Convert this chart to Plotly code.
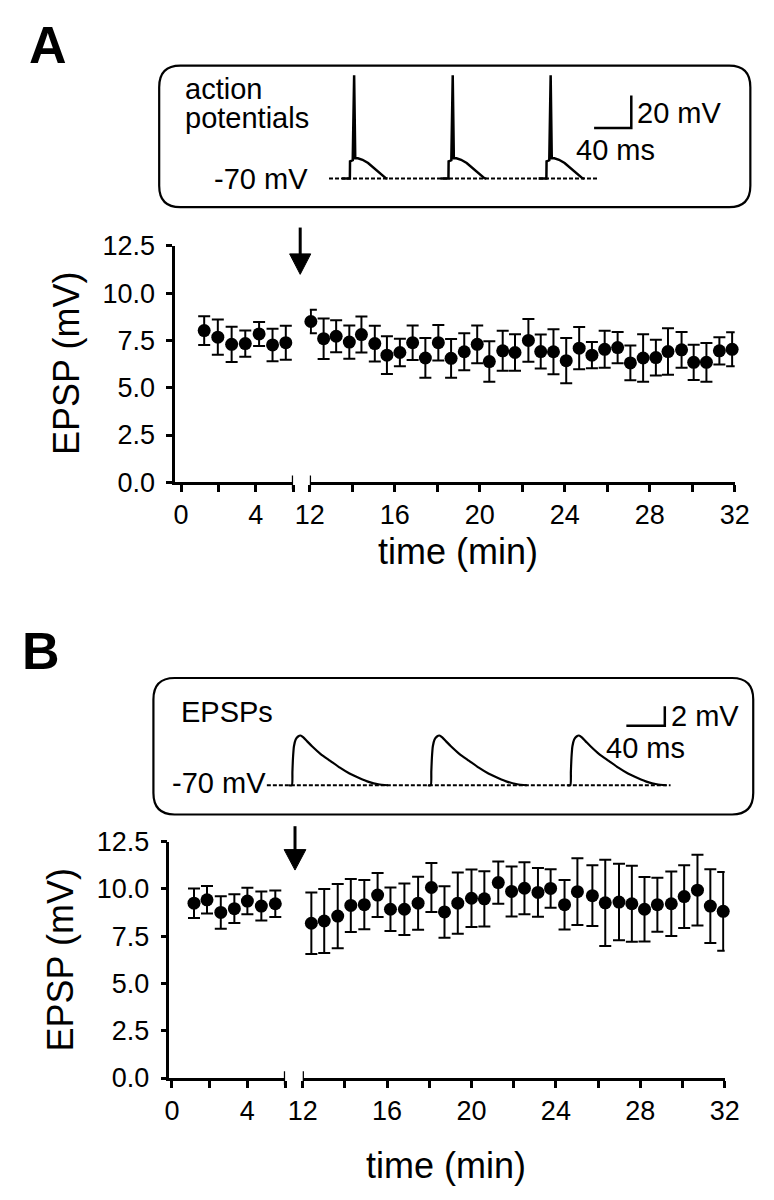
import plotly.graph_objects as go

W, H = 774, 1200
FONT = "Liberation Sans, Arial, Helvetica, sans-serif"

# ---------------- data: panel A (action potentials) ----------------
A_pre_t = [1.24, 1.97, 2.71, 3.44, 4.18, 4.90, 5.61]
A_pre_v = [8.02, 7.67, 7.29, 7.33, 7.84, 7.26, 7.38]
A_pre_e = [0.76, 0.93, 0.93, 0.69, 0.63, 0.86, 0.90]

A_post_t = [12.05, 12.65, 13.24, 13.86, 14.43, 15.06, 15.63, 16.24, 16.84, 17.44,
            18.05, 18.65, 19.27, 19.88, 20.45, 21.08, 21.66, 22.29, 22.87, 23.47,
            24.07, 24.68, 25.28, 25.88, 26.49, 27.09, 27.69, 28.29, 28.86, 29.50,
            30.07, 30.67, 31.28, 31.88]
A_post_v = [8.50, 7.59, 7.72, 7.41, 7.81, 7.33, 6.72, 6.86, 7.38, 6.57,
            7.38, 6.55, 6.90, 7.29, 6.38, 6.95, 6.86, 7.50, 6.91, 6.90,
            6.43, 7.09, 6.72, 7.03, 7.12, 6.31, 6.57, 6.59, 6.91, 7.00,
            6.34, 6.34, 6.95, 7.03]
A_post_e = [0.62, 1.07, 0.85, 0.88, 0.95, 0.95, 1.00, 0.73, 0.91, 1.05,
            0.94, 1.03, 0.98, 1.00, 1.07, 1.06, 0.97, 1.13, 0.90, 1.19,
            1.20, 1.12, 0.69, 0.98, 0.83, 0.92, 1.25, 0.95, 1.23, 0.95,
            0.93, 1.02, 0.72, 0.90]

# ---------------- data: panel B (EPSPs) ----------------
B_pre_t = [1.17, 1.86, 2.59, 3.31, 4.00, 4.74, 5.48]
B_pre_v = [9.24, 9.42, 8.75, 8.95, 9.35, 9.09, 9.21]
B_pre_e = [0.78, 0.73, 0.86, 0.76, 0.70, 0.77, 0.70]

B_post_t = [12.41, 13.02, 13.66, 14.28, 14.92, 15.55, 16.16, 16.82, 17.47, 18.10,
            18.72, 19.35, 20.00, 20.61, 21.27, 21.90, 22.51, 23.15, 23.75, 24.41,
            25.02, 25.73, 26.34, 26.99, 27.60, 28.20, 28.81, 29.47, 30.08, 30.71,
            31.32, 31.93]
B_post_v = [8.18, 8.30, 8.56, 9.12, 9.16, 9.67, 8.92, 8.92, 9.24, 10.07,
            8.78, 9.24, 9.50, 9.47, 10.33, 9.86, 10.03, 9.81, 10.02, 9.16,
            9.85, 9.64, 9.26, 9.30, 9.21, 8.92, 9.16, 9.21, 9.59, 9.93,
            9.09, 8.81]
B_post_e = [1.63, 1.69, 1.70, 1.40, 1.30, 1.16, 1.15, 1.36, 1.40, 1.30,
            1.36, 1.62, 1.52, 1.46, 1.12, 1.32, 1.37, 1.29, 1.02, 1.31,
            1.76, 1.60, 2.28, 2.02, 2.01, 1.70, 1.43, 1.70, 1.66, 1.87,
            1.95, 2.08]

# axis ticks
Y_TICKS = [0, 2.5, 5.0, 7.5, 10.0, 12.5]
X_PRE_TICKS = [0, 2, 4, 6]
X_PRE_LABELS = ["0", "", "4", ""]
X_POST_TICKS = [12, 14, 16, 18, 20, 22, 24, 26, 28, 30, 32]
X_POST_LABELS = ["12", "", "16", "", "20", "", "24", "", "28", "", "32"]

# ---------------- inset traces (ms, mV) ----------------
AP_SPIKE_MS = [27.0, 133.0, 238.3]
AP_DT = [-13, -4.6, -4.4, -1.5, 0, 1.2, 4, 9, 15, 21, 27, 31, 34, 36]
AP_MV = [-70, -70, -59.5, -58.8, -6.5, -57.6, -57.6, -58.5, -60.5, -63.5, -66.8, -68.8, -69.8, -70]
AP_BASE_MS = [0, 289.4]
AP_SCALE_MS = [285.0, 325.0, 325.0]
AP_SCALE_MV = [-39.0, -39.0, -19.0]

EPSP_ONSET_MS = [26.0, 170.5, 315.7]
EPSP_DT = [-3, 0, 0.6, 1.2, 2.2, 4, 6.5, 9, 12, 16, 21, 30, 40, 50, 60, 70, 80, 90, 100]
EPSP_MV = [-70, -70, -68.6, -67.2, -66.0, -65.3, -65.0, -64.9, -65.1, -65.5, -66.0,
           -66.8, -67.5, -68.2, -68.8, -69.25, -69.65, -69.9, -70.0]
EPSP_BASE_MS = [0, 420]
EPSP_SCALE_MS = [374.0, 414.0, 414.0]
EPSP_SCALE_MV = [-63.9, -63.9, -61.9]


def fx(p):
    return p / W


def fy(p):
    return 1 - p / H


fig = go.Figure()


def add_series(t, v, e, xa, ya):
    fig.add_trace(go.Scatter(
        x=t, y=v, mode="markers", xaxis=xa, yaxis=ya, cliponaxis=False,
        marker=dict(color="black", size=13, line=dict(width=0)),
        error_y=dict(type="data", array=e, visible=True, color="black",
                     thickness=2, width=6),
        showlegend=False, hoverinfo="skip"))


add_series(A_pre_t, A_pre_v, A_pre_e, "x", "y")
add_series(A_post_t, A_post_v, A_post_e, "x2", "y")
add_series(B_pre_t, B_pre_v, B_pre_e, "x3", "y2")
add_series(B_post_t, B_post_v, B_post_e, "x4", "y2")

# inset A traces
fig.add_trace(go.Scatter(x=AP_BASE_MS, y=[-70, -70], mode="lines", xaxis="x5", yaxis="y3",
                         line=dict(color="black", width=2, dash="4px,2px"), cliponaxis=False,
                         showlegend=False, hoverinfo="skip"))
for s in AP_SPIKE_MS:
    fig.add_trace(go.Scatter(x=[s + d for d in AP_DT], y=AP_MV, mode="lines",
                             xaxis="x5", yaxis="y3", cliponaxis=False,
                             line=dict(color="black", width=2.5),
                             showlegend=False, hoverinfo="skip"))
fig.add_trace(go.Scatter(x=AP_SCALE_MS, y=AP_SCALE_MV, mode="lines", xaxis="x5", yaxis="y3",
                         line=dict(color="black", width=2.5), cliponaxis=False,
                         showlegend=False, hoverinfo="skip"))

# inset B traces
fig.add_trace(go.Scatter(x=EPSP_BASE_MS, y=[-70, -70], mode="lines", xaxis="x6", yaxis="y4",
                         line=dict(color="black", width=2, dash="4px,2px"), cliponaxis=False,
                         showlegend=False, hoverinfo="skip"))
for s in EPSP_ONSET_MS:
    fig.add_trace(go.Scatter(x=[s + d for d in EPSP_DT], y=EPSP_MV, mode="lines",
                             xaxis="x6", yaxis="y4", cliponaxis=False,
                             line=dict(color="black", width=2.2, shape="spline", smoothing=0.6),
                             showlegend=False, hoverinfo="skip"))
fig.add_trace(go.Scatter(x=EPSP_SCALE_MS, y=EPSP_SCALE_MV, mode="lines", xaxis="x6", yaxis="y4",
                         line=dict(color="black", width=2.5), cliponaxis=False,
                         showlegend=False, hoverinfo="skip"))

tickfont = dict(family=FONT, size=27, color="black")


def xax(domain, rng, tickvals, ticktext, anchor):
    return dict(domain=domain, range=rng, anchor=anchor, showgrid=False, zeroline=False,
                showline=True, linecolor="black", linewidth=2.5,
                ticks="outside", ticklen=7, tickwidth=2.5, tickcolor="black",
                tickvals=tickvals, ticktext=ticktext, tickfont=tickfont,
                fixedrange=True)


def yax(domain, anchor):
    return dict(domain=domain, range=[0, 12.5], anchor=anchor, showgrid=False, zeroline=False,
                showline=True, linecolor="black", linewidth=2.5,
                ticks="outside", ticklen=6, tickwidth=2.5, tickcolor="black",
                tickvals=Y_TICKS, tickformat=".1f", tickfont=tickfont,
                ticklabelstandoff=6, fixedrange=True)


def hidden(domain, rng, anchor):
    return dict(domain=domain, range=rng, anchor=anchor, visible=False,
                showgrid=False, zeroline=False, fixedrange=True)


layout = dict(
    width=W, height=H, margin=dict(l=0, r=0, t=0, b=0),
    paper_bgcolor="white", plot_bgcolor="rgba(0,0,0,0)",
    font=dict(family=FONT, color="black"),
    showlegend=False,
    xaxis=xax([fx(166.7), fx(289.3)], [-0.31, 6.0], X_PRE_TICKS, X_PRE_LABELS, "y"),
    xaxis2=xax([fx(306.7), fx(748.7)], [12, 32], X_POST_TICKS, X_POST_LABELS, "y"),
    yaxis=yax([fy(479.3), fy(236.7)], "x"),
    xaxis3=xax([fx(160.7), fx(281.0)], [-0.13, 6.0], X_PRE_TICKS, X_PRE_LABELS, "y2"),
    xaxis4=xax([fx(299.3), fx(738.3)], [12, 32], X_POST_TICKS, X_POST_LABELS, "y2"),
    yaxis2=yax([fy(1090.3), fy(847.7)], "x3"),
    xaxis5=hidden([fx(150), fx(765)], [-182.6, 453.0], "y3"),
    yaxis3=hidden([fy(197), fy(52)], [-87.6, -0.6], "x5"),
    xaxis6=hidden([fx(144), fx(768)], [-118, 506], "y4"),
    yaxis4=hidden([fy(820), fy(680)], [-73, -59], "x6"),
)
fig.update_layout(**layout)


def rounded_box(x0, y0, x1, y1, r):
    rx, ry = r / W, r / H
    X0, X1 = fx(x0), fx(x1)
    Y0, Y1 = fy(y0), fy(y1)  # Y0 top, Y1 bottom (paper)
    return (f"M {X0 + rx},{Y0} L {X1 - rx},{Y0} Q {X1},{Y0} {X1},{Y0 - ry} "
            f"L {X1},{Y1 + ry} Q {X1},{Y1} {X1 - rx},{Y1} "
            f"L {X0 + rx},{Y1} Q {X0},{Y1} {X0},{Y1 + ry} "
            f"L {X0},{Y0 - ry} Q {X0},{Y0} {X0 + rx},{Y0} Z")


def arrow_shapes(x, y_top, y_head, y_tip, half):
    return [
        dict(type="line", xref="paper", yref="paper", x0=fx(x), x1=fx(x),
             y0=fy(y_top), y1=fy(y_head + 3), line=dict(color="black", width=3)),
        dict(type="path", xref="paper", yref="paper",
             path=f"M {fx(x - half)},{fy(y_head)} L {fx(x + half)},{fy(y_head)} L {fx(x)},{fy(y_tip)} Z",
             fillcolor="black", line=dict(color="black", width=1)),
    ]


shapes = [
    dict(type="path", xref="paper", yref="paper", path=rounded_box(150, 52, 765, 197, 22),
         line=dict(color="black", width=2.2)),
    dict(type="path", xref="paper", yref="paper", path=rounded_box(144, 680, 768, 820, 22),
         line=dict(color="black", width=2.2)),
]
shapes += arrow_shapes(296.7, 218, 245, 266, 11)
shapes += arrow_shapes(291.3, 832, 856, 877, 11.3)
# axis break marks
for xr, xv, yr in [("x", 6, 479.3), ("x2", 12, 479.3), ("x3", 6, 1090.3), ("x4", 12, 1090.3)]:
    shapes.append(dict(type="line", xref=xr, yref="paper", x0=xv, x1=xv,
                       y0=fy(yr - 7), y1=fy(yr + 7), line=dict(color="black", width=2.5)))
fig.update_layout(shapes=shapes)


def ann(text, x, y, size, xanchor="left", yanchor="middle", angle=0, bold=False):
    return dict(text=f"<b>{text}</b>" if bold else text, x=fx(x), y=fy(y),
                xref="paper", yref="paper", xanchor=xanchor, yanchor=yanchor,
                textangle=angle, showarrow=False,
                font=dict(family=FONT, size=size, color="black"))


annotations = [
    ann("A", 12, 31, 52, bold=True),
    ann("B", 5, 652, 52, bold=True),
    # inset A
    ann("action", 175, 76, 29),
    ann("potentials", 175, 105.5, 29),
    ann("-70 mV", 205, 168, 29),
    ann("20 mV", 645, 100, 29),
    ann("40 ms", 582, 138, 29),
    # inset B
    ann("EPSPs", 171, 715, 29),
    ann("-70 mV", 263, 788, 29, xanchor="right"),
    ann("2 mV", 680, 719, 29),
    ann("40 ms", 613, 752, 29),
    # axis titles
    ann("EPSP (mV)", 53.5, 357.5, 36, xanchor="center", angle=-90),
    ann("EPSP (mV)", 47.5, 969, 36, xanchor="center", angle=-90),
    ann("time (min)", 461, 550, 36, xanchor="center"),
    ann("time (min)", 448, 1180, 36, xanchor="center"),
]
fig.update_layout(annotations=annotations)

fig.write_html("out.html", config={"displayModeBar": False},
               post_script="document.body.style.margin='0px';document.body.style.overflow='hidden';")
